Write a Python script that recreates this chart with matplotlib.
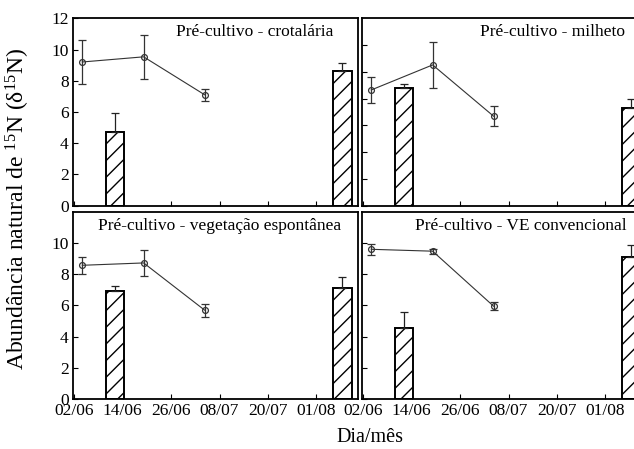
import matplotlib
matplotlib.use("Agg")
import matplotlib.pyplot as plt

plt.rcParams['font.family'] = ['Liberation Serif', 'DejaVu Serif']
plt.rcParams['mathtext.fontset'] = 'custom'
plt.rcParams['mathtext.rm'] = 'Liberation Serif'
plt.rcParams['mathtext.it'] = 'Liberation Serif:italic'
plt.rcParams['hatch.linewidth'] = 1.0

# x positions in days after 02/06
tick_days = [0, 12, 24, 36, 48, 60]
tick_labels = ["02/06", "14/06", "26/06", "08/07", "20/07", "01/08"]
line_days = [2.0, 17.2, 32.3]
bar_days = [10.1, 66.4]

titles = ["Pré-cultivo - crotalária", "Pré-cultivo - milheto",
          "Pré-cultivo - vegetação espontânea", "Pré-cultivo - VE convencional"]

line_crot = [9.2, 9.53, 7.1]
line_crot_err = [1.38, 1.42, 0.38]
bar_crot = [4.72, 8.6]
bar_crot_err = [1.2, 0.56]

line_milh = [8.65, 10.52, 6.69]
line_milh_err = [1.0, 1.73, 0.75]
bar_milh = [8.78, 7.28]
bar_milh_err = [0.35, 0.68]

line_veg = [8.55, 8.7, 5.69]
line_veg_err = [0.53, 0.85, 0.42]
bar_veg = [6.94, 7.13]
bar_veg_err = [0.32, 0.68]

line_conv = [9.57, 9.45, 5.94]
line_conv_err = [0.35, 0.17, 0.25]
bar_conv = [4.56, 9.08]
bar_conv_err = [1.02, 0.75]

W, H = 634, 449
fig = plt.figure(figsize=(W / 100, H / 100), dpi=100)

def px_axes(x0, y0, x1, y1):
    return fig.add_axes([x0 / W, 1 - y1 / H, (x1 - x0) / W, (y1 - y0) / H])

ax_tl = px_axes(73, 18.3, 358, 205.5)
ax_tr = px_axes(362, 18.3, 647, 205.8)
ax_bl = px_axes(73, 212, 358, 399.3)
ax_br = px_axes(362, 212, 647, 399.3)

panels = [
    (ax_tl, line_crot, line_crot_err, bar_crot, bar_crot_err, titles[0], 12, True, False, 25),
    (ax_tr, line_milh, line_milh_err, bar_milh, bar_milh_err, titles[1], 14, False, False, 22),
    (ax_bl, line_veg, line_veg_err, bar_veg, bar_veg_err, titles[2], 11.95, True, True, 17),
    (ax_br, line_conv, line_conv_err, bar_conv, bar_conv_err, titles[3], 11.95, False, True, 20),
]

FS = 12.5
for ax, lv, le, bv, be, title, ytop, ylab, xlab, rpad in panels:
    ax.bar(bar_days, bv, width=4.6, facecolor='white', edgecolor='black',
           linewidth=1.4, hatch='//', zorder=2)
    ax.errorbar(bar_days, bv, yerr=[[0, 0], be], fmt='none', ecolor='#222222',
                elinewidth=0.9, capsize=3, capthick=0.9, zorder=3)
    ax.errorbar(line_days, lv, yerr=le, fmt='-o', color='#333333', lw=0.8,
                markersize=4.2, markerfacecolor='none', markeredgewidth=0.9,
                elinewidth=0.9, capsize=3, capthick=0.9, zorder=4)
    ax.set_xlim(-0.3, 70.3)
    ax.set_ylim(0, ytop)
    ax.set_xticks(tick_days)
    if ytop >= 12:
        ax.set_yticks([0, 2, 4, 6, 8, 10, 12])
    else:
        ax.set_yticks([0, 2, 4, 6, 8, 10])
    ax.tick_params(direction='in', length=3.5, width=0.8, labelsize=FS,
                   top=False, right=False, pad=3)
    if xlab:
        ax.set_xticklabels(tick_labels)
    else:
        ax.set_xticklabels([])
    if not ylab:
        ax.set_yticklabels([])
    for s in ax.spines.values():
        s.set_linewidth(1.3)
    ax.text(1 - rpad / 285, 1 - 14 / 187, title, transform=ax.transAxes,
            ha='right', va='center', fontsize=FS)

fig.text(18 / W, 1 - 209 / H, r'Abundância natural de $^{15}$N (δ$^{15}$N)',
         rotation=90, ha='center', va='center', fontsize=17)
fig.text(370 / W, 1 - 438 / H, 'Dia/mês', ha='center', va='center', fontsize=14.5)

fig.savefig('out.png', dpi=100)
